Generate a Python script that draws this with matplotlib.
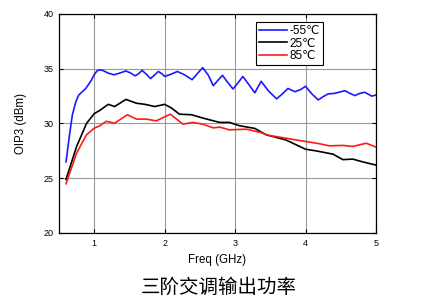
import matplotlib
matplotlib.use("Agg")
import matplotlib.pyplot as plt

freq_blue = [0.60, 0.65, 0.69, 0.74, 0.78, 0.88, 0.95, 1.00, 1.04, 1.07, 1.12, 1.20, 1.28, 1.36, 1.45, 1.52, 1.58, 1.63, 1.68, 1.74, 1.80, 1.86, 1.91, 1.96, 2.00, 2.09, 2.18, 2.28, 2.39, 2.47, 2.54, 2.62, 2.69, 2.75, 2.82, 2.89, 2.97, 3.04, 3.11, 3.19, 3.28, 3.33, 3.37, 3.47, 3.59, 3.67, 3.75, 3.85, 3.93, 4.00, 4.09, 4.18, 4.25, 4.32, 4.41, 4.50, 4.56, 4.63, 4.70, 4.77, 4.84, 4.94, 5.00]
oip3_blue = [26.5, 29.0, 30.8, 32.0, 32.6, 33.2, 33.85, 34.45, 34.8, 34.9, 34.85, 34.6, 34.45, 34.6, 34.8, 34.6, 34.35, 34.55, 34.85, 34.5, 34.1, 34.45, 34.75, 34.55, 34.3, 34.5, 34.75, 34.45, 34.0, 34.6, 35.1, 34.4, 33.45, 33.9, 34.4, 33.8, 33.15, 33.7, 34.3, 33.6, 32.8, 33.4, 33.85, 33.0, 32.25, 32.7, 33.2, 32.9, 33.1, 33.4, 32.7, 32.15, 32.45, 32.7, 32.75, 32.9, 33.0, 32.75, 32.55, 32.75, 32.85, 32.5, 32.6]

freq_black = [0.60, 0.75, 0.89, 1.00, 1.08, 1.20, 1.29, 1.45, 1.60, 1.72, 1.86, 2.00, 2.10, 2.21, 2.38, 2.54, 2.78, 2.92, 3.06, 3.28, 3.44, 3.72, 4.00, 4.15, 4.39, 4.53, 4.67, 4.81, 5.00]
oip3_black = [24.9, 27.9, 30.0, 30.9, 31.2, 31.75, 31.55, 32.2, 31.85, 31.75, 31.55, 31.75, 31.4, 30.85, 30.8, 30.5, 30.1, 30.1, 29.8, 29.55, 28.97, 28.5, 27.65, 27.5, 27.2, 26.7, 26.75, 26.5, 26.2]

freq_red = [0.60, 0.75, 0.89, 1.00, 1.08, 1.17, 1.29, 1.47, 1.60, 1.74, 1.88, 2.08, 2.26, 2.40, 2.54, 2.69, 2.78, 2.92, 3.16, 3.35, 3.49, 3.72, 3.91, 4.00, 4.20, 4.34, 4.53, 4.67, 4.86, 5.00]
oip3_red = [24.5, 27.3, 28.97, 29.57, 29.8, 30.2, 30.03, 30.8, 30.4, 30.4, 30.24, 30.85, 29.94, 30.1, 29.94, 29.6, 29.67, 29.42, 29.48, 29.2, 28.9, 28.66, 28.45, 28.36, 28.15, 27.96, 28.0, 27.9, 28.2, 27.85]

labels = ["-55℃", "25℃", "85℃"]
xticks = [1, 2, 3, 4, 5]
yticks = [20, 25, 30, 35, 40]

plt.rcParams['font.family'] = ['Liberation Sans', 'DejaVu Sans']

fig = plt.figure(figsize=(4.25, 3.06), dpi=100)
ax = fig.add_axes([59/425, 1 - 233/306, (376-59)/425, (233-14)/306])

ax.plot(freq_blue, oip3_blue, color='#1a1aff', lw=1.2, label=labels[0])
ax.plot(freq_black, oip3_black, color='black', lw=1.2, label=labels[1])
ax.plot(freq_red, oip3_red, color='#ff1a1a', lw=1.2, label=labels[2])

ax.set_xlim(0.5, 5)
ax.set_ylim(20, 40)
ax.set_xticks(xticks)
ax.set_yticks(yticks)
ax.tick_params(direction='in', length=3, width=0.8, labelsize=6.5, top=True, right=True, pad=4)
ax.grid(True, color='#999999', lw=0.8)
ax.set_axisbelow(True)
for s in ax.spines.values():
    s.set_linewidth(0.9)

ax.set_xlabel("Freq (GHz)", fontsize=8.3, labelpad=5)
ax.set_ylabel("OIP3 (dBm)", fontsize=8.3, labelpad=12)

leg = ax.legend(loc='upper left', bbox_to_anchor=((256-59)/317, 1 - (22-14)/219), fontsize=8.5,
                frameon=True, fancybox=False, edgecolor='black', framealpha=1,
                borderpad=0.25, labelspacing=0.05, handlelength=2.4, handletextpad=0.2, borderaxespad=0)
leg.get_frame().set_linewidth(0.8)

fig.text(0.515, 1 - 287/306, "三阶交调输出功率", ha='center', va='center', fontsize=14,
         family=['Noto Sans CJK SC', 'DejaVu Sans'])

fig.savefig("out.png", dpi=100)
